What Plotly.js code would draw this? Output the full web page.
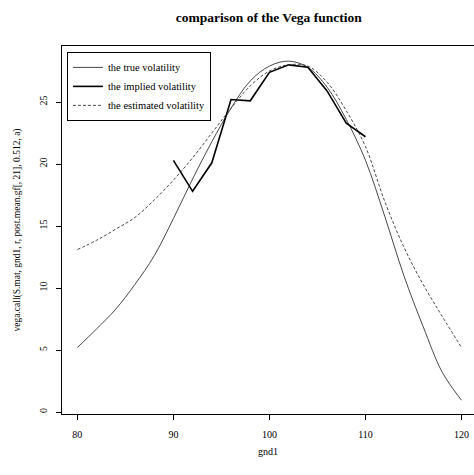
<!DOCTYPE html>
<html>
<head>
<meta charset="utf-8">
<script src="https://cdn.plot.ly/plotly-3.0.1.min.js"></script>
<style>html,body{margin:0;padding:0;background:#fff;}#chart{width:474px;height:475px;}</style>
</head>
<body>
<div id="chart"></div>
<script>
var strikes = [80,82,84,86,88,90,92,94,96,98,100,102,104,106,108,110,112,114,116,118,120];
var trueVol = [5.2,6.7,8.3,10.3,12.6,15.6,18.8,21.8,24.5,26.7,27.9,28.3,27.8,26.2,23.6,20.3,15.8,11.0,6.9,3.2,0.95];
var estVol = [13.1,13.85,14.75,15.7,17.1,18.7,20.5,22.5,24.5,26.3,27.5,28.0,27.9,26.6,24.3,21.4,17.0,13.3,10.3,7.7,5.2];
var impStrikes = [90,92,94,96,98,100,102,104,106,108,110];
var impVol = [20.3,17.8,20.1,25.2,25.1,27.4,28.0,27.8,25.9,23.3,22.2];
var xTicks = [80,90,100,110,120];
var yTicks = [0,5,10,15,20,25];
var seriesNames = ['the true volatility','the implied volatility','the estimated volatility'];

var serif = 'Liberation Serif, DejaVu Serif, serif';
var traces = [
  {x: strikes, y: trueVol, name: seriesNames[0], mode: 'lines',
   line: {color: '#333', width: 0.9, shape: 'spline', smoothing: 1}},
  {x: impStrikes, y: impVol, name: seriesNames[1], mode: 'lines',
   line: {color: '#000', width: 1.6}},
  {x: strikes, y: estVol, name: seriesNames[2], mode: 'lines',
   line: {color: '#333', width: 0.9, dash: '3px,2px', shape: 'spline', smoothing: 1}}
];
var layout = {
  width: 474, height: 475,
  margin: {l: 62, r: 0, t: 46, b: 61},
  paper_bgcolor: '#fff', plot_bgcolor: '#fff',
  font: {family: serif, size: 10, color: '#000'},
  title: {text: '<b>comparison of the Vega function</b>', font: {family: serif, size: 13.5, color: '#000'},
          x: 0.567, xref: 'container', xanchor: 'center', y: 0.964, yref: 'container', yanchor: 'middle'},
  showlegend: true,
  legend: {x: 0.012, y: 0.984, xanchor: 'left', yanchor: 'top', bordercolor: '#000', borderwidth: 1,
           bgcolor: '#fff', font: {family: serif, size: 10.5, color: '#000'}, tracegroupgap: 0},
  xaxis: {range: [78.4, 121.3], tickvals: xTicks, ticks: 'outside', ticklen: 5, tickcolor: '#000',
          showline: true, linecolor: '#000', linewidth: 1, mirror: true, showgrid: false, zeroline: false,
          ticklabelstandoff: 6, tickfont: {family: serif, size: 10, color: '#000'},
          title: {text: 'gnd1', font: {family: serif, size: 10, color: '#000'}, standoff: 8}},
  yaxis: {range: [-0.16, 29.52], tickvals: yTicks, ticks: 'outside', ticklen: 5, tickcolor: '#000',
          tickangle: -90, showline: true, linecolor: '#000', linewidth: 1, mirror: false,
          showgrid: false, zeroline: false, ticklabelstandoff: 5,
          tickfont: {family: serif, size: 10, color: '#000'},
          title: {text: 'vega.call(S.mat, gnd1, r, post.mean.gf[, 21], 0.512, a)',
                  font: {family: serif, size: 9.5, color: '#000'}, standoff: 15}}
};
Plotly.newPlot('chart', traces, layout, {displayModeBar: false, staticPlot: true});
</script>
</body>
</html>
